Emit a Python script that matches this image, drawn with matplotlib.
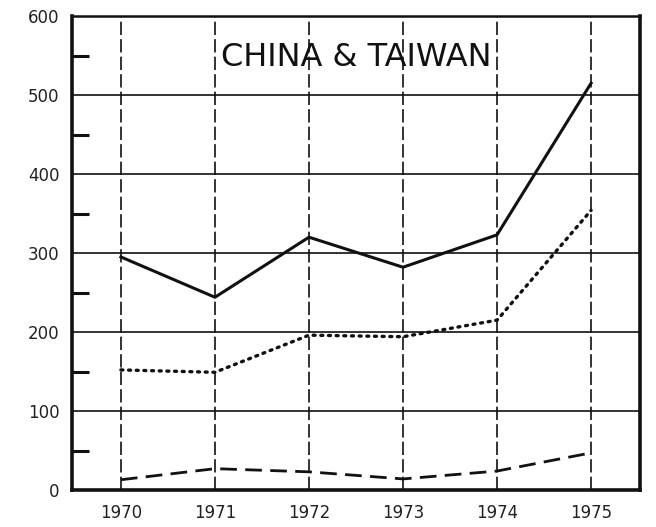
import matplotlib
matplotlib.use("Agg")
import matplotlib.pyplot as plt
from matplotlib.ticker import MultipleLocator

years = [1970, 1971, 1972, 1973, 1974, 1975]
solid_vals = [295, 244, 320, 282, 323, 515]
dotted_vals = [152, 149, 196, 194, 215, 354]
dashed_vals = [13, 27, 23, 14, 24, 47]
y_ticks = [0, 100, 200, 300, 400, 500, 600]
title = "CHINA & TAIWAN"

fig = plt.figure(figsize=(6.56, 5.27), dpi=100)
ax = fig.add_axes([72/656, 1-490/527, (640-72)/656, (490-16)/527])

ax.set_xlim(1969.48, 1975.52)
ax.set_ylim(0, 600)

for y in y_ticks[1:-1]:
    ax.axhline(y, color="#111111", lw=1.2, zorder=1)
for x in years:
    ax.axvline(x, color="#111111", lw=1.2, ls=(0, (8, 2.5)), zorder=1)

ax.plot(years, solid_vals, color="#111111", lw=2.2, solid_joinstyle="miter", zorder=3)
ax.plot(years, dotted_vals, color="#111111", lw=2.4, ls=(0, (0.6, 1.7)),
        dash_capstyle="round", zorder=3)
ax.plot(years, dashed_vals, color="#111111", lw=2.0, ls=(0, (6, 3)), zorder=3)

ax.text(1972.5, 547, title, ha="center", va="center", fontsize=23,
        family="DejaVu Sans", color="#111111")

ax.set_xticks(years)
ax.set_xticklabels([str(y) for y in years], fontsize=12, color="#222222")
ax.set_yticks(y_ticks)
ax.set_yticklabels([str(y) for y in y_ticks], fontsize=12, color="#222222")
ax.yaxis.set_minor_locator(MultipleLocator(50))
ax.tick_params(axis="x", length=0, pad=10)
ax.tick_params(axis="y", which="major", length=0, pad=9)
ax.tick_params(axis="y", which="minor", length=12, width=2.2, direction="in", color="#111111")

for side in ["left", "bottom", "right"]:
    ax.spines[side].set_linewidth(2.6)
    ax.spines[side].set_color("#111111")
ax.spines["top"].set_linewidth(1.8)
ax.spines["top"].set_color("#111111")

fig.savefig("out.png", dpi=100)
